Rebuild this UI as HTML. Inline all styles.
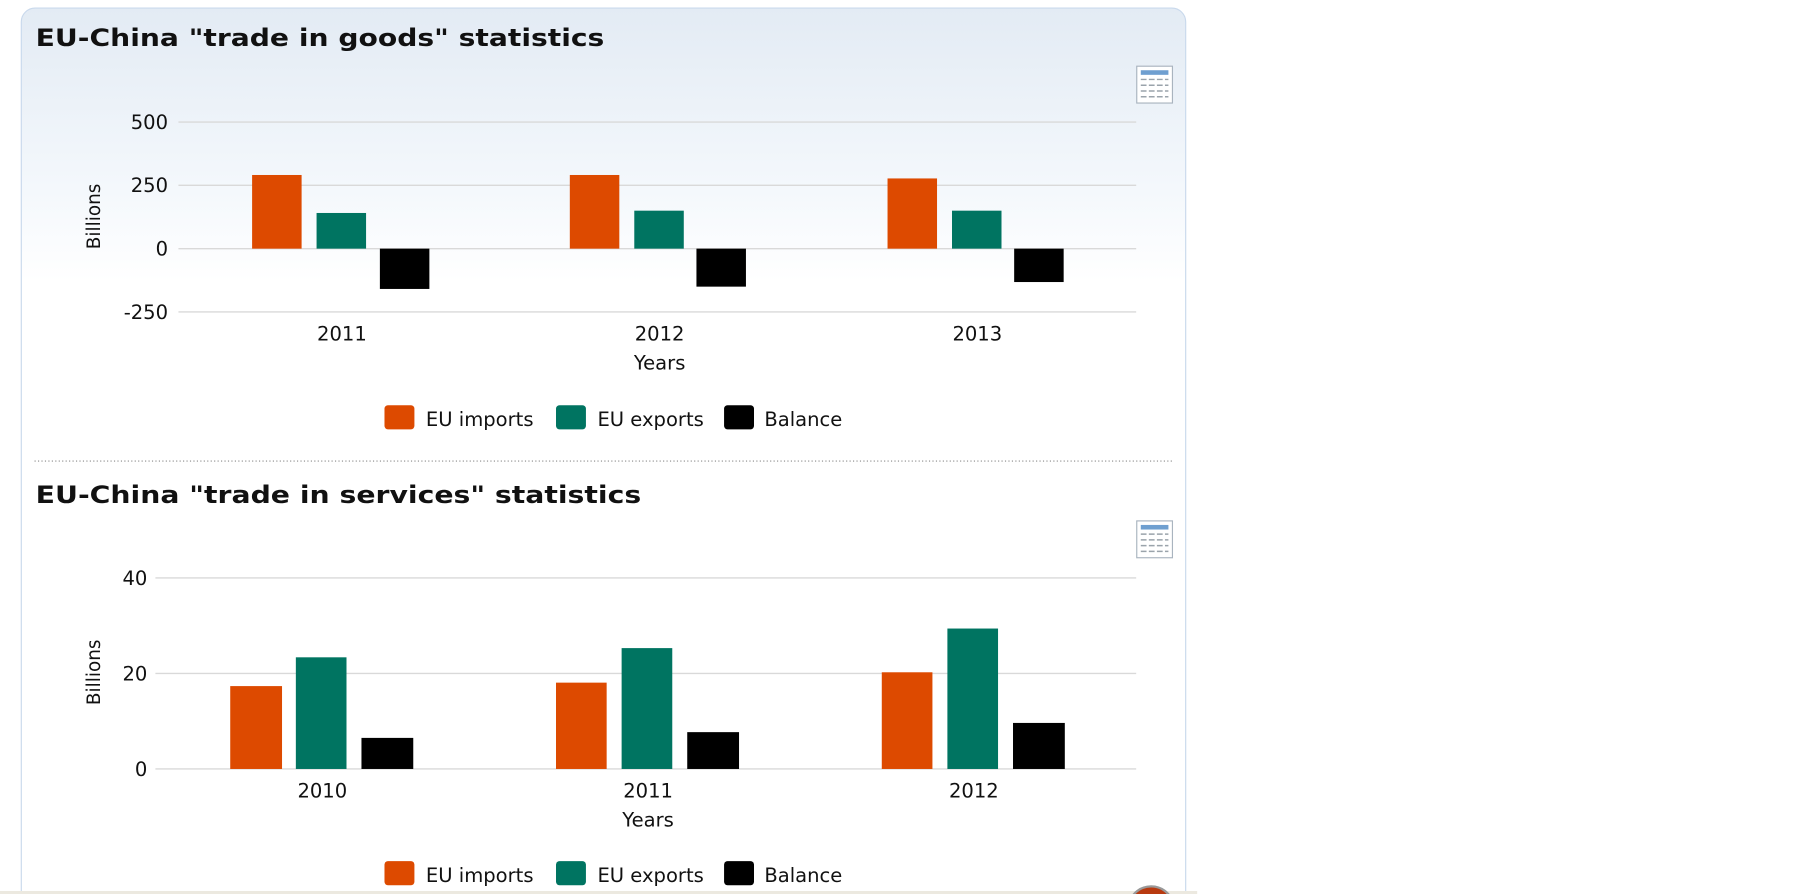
<!DOCTYPE html>
<html><head><meta charset="utf-8"><style>
html,body{margin:0;padding:0;background:#fff;width:1805px;height:894px;overflow:hidden}
svg{display:block}
text{font-family:"DejaVu Sans","Liberation Sans",sans-serif;fill:#111}
</style></head><body>
<svg width="1805" height="894" viewBox="0 0 1568 776.6" xmlns="http://www.w3.org/2000/svg">
<defs>
<linearGradient id="bg" x1="0" y1="0" x2="0" y2="1">
<stop offset="0" stop-color="#e3ebf4"/><stop offset="0.2" stop-color="#f4f8fc"/><stop offset="0.3" stop-color="#fff"/>
</linearGradient>
<g id="icon">
<rect x="0.5" y="0.5" width="31" height="32" fill="#fff" stroke="#a9b4bf"/>
<rect x="4" y="4" width="24" height="4" fill="#6f9fd0"/>
<g stroke="#9aa3ab" stroke-width="1.3" stroke-dasharray="5,2">
<line x1="4" y1="12" x2="28" y2="12"/><line x1="4" y1="17" x2="28" y2="17"/><line x1="4" y1="22" x2="28" y2="22"/><line x1="4" y1="27" x2="28" y2="27"/>
</g>
</g>
</defs>
<path d="M18.5,800 V19 a12,12 0 0 1 12,-12 H1018 a12,12 0 0 1 12,12 V800" fill="url(#bg)" stroke="#c9d9ec"/>
<text x="31" y="40" font-size="21" font-weight="bold" textLength="494" lengthAdjust="spacingAndGlyphs">EU-China "trade in goods" statistics</text>
<use href="#icon" x="987" y="57"/>
<g stroke="#d9d9d9" stroke-width="1.2">
<line x1="155" y1="106" x2="987" y2="106"/><line x1="155" y1="161" x2="987" y2="161"/><line x1="155" y1="216" x2="987" y2="216"/><line x1="155" y1="271" x2="987" y2="271"/>
</g>
<g font-size="17" text-anchor="end">
<text x="146" y="112">500</text><text x="146" y="167">250</text><text x="146" y="222">0</text><text x="146" y="277">-250</text>
</g>
<text transform="translate(87,188) rotate(-90)" font-size="16" text-anchor="middle">Billions</text>
<g fill="#dd4a00"><rect x="219" y="152" width="43" height="64"/><rect x="495" y="152" width="43" height="64"/><rect x="771" y="155" width="43" height="61"/></g>
<g fill="#007461"><rect x="275" y="185" width="43" height="31"/><rect x="551" y="183" width="43" height="33"/><rect x="827" y="183" width="43" height="33"/></g>
<g fill="#000"><rect x="330" y="216" width="43" height="35"/><rect x="605" y="216" width="43" height="33"/><rect x="881" y="216" width="43" height="29"/></g>
<g font-size="17" text-anchor="middle">
<text x="297" y="296">2011</text><text x="573" y="296">2012</text><text x="849" y="296">2013</text><text x="573" y="321">Years</text>
</g>
<g font-size="17">
<rect x="334" y="352" width="26" height="21" rx="3" fill="#dd4a00"/><text x="370" y="370">EU imports</text>
<rect x="483" y="352" width="26" height="21" rx="3" fill="#007461"/><text x="519" y="370">EU exports</text>
<rect x="629" y="352" width="26" height="21" rx="3" fill="#000"/><text x="664" y="370">Balance</text>
</g>
<line x1="30" y1="400.5" x2="1018" y2="400.5" stroke="#888" stroke-dasharray="1,2"/>
<text x="31" y="437" font-size="21" font-weight="bold" textLength="526" lengthAdjust="spacingAndGlyphs">EU-China "trade in services" statistics</text>
<use href="#icon" x="987" y="452"/>
<g stroke="#d9d9d9" stroke-width="1.2">
<line x1="135" y1="502" x2="987" y2="502"/><line x1="135" y1="585" x2="987" y2="585"/><line x1="135" y1="668" x2="987" y2="668"/>
</g>
<g font-size="17" text-anchor="end">
<text x="128" y="508">40</text><text x="128" y="591">20</text><text x="128" y="674">0</text>
</g>
<text transform="translate(87,584) rotate(-90)" font-size="16" text-anchor="middle">Billions</text>
<g fill="#dd4a00"><rect x="200" y="596" width="45" height="72"/><rect x="483" y="593" width="44" height="75"/><rect x="766" y="584" width="44" height="84"/></g>
<g fill="#007461"><rect x="257" y="571" width="44" height="97"/><rect x="540" y="563" width="44" height="105"/><rect x="823" y="546" width="44" height="122"/></g>
<g fill="#000"><rect x="314" y="641" width="45" height="27"/><rect x="597" y="636" width="45" height="32"/><rect x="880" y="628" width="45" height="40"/></g>
<g font-size="17" text-anchor="middle">
<text x="280" y="693">2010</text><text x="563" y="693">2011</text><text x="846" y="693">2012</text><text x="563" y="718">Years</text>
</g>
<g font-size="17">
<rect x="334" y="748" width="26" height="21" rx="3" fill="#dd4a00"/><text x="370" y="766">EU imports</text>
<rect x="483" y="748" width="26" height="21" rx="3" fill="#007461"/><text x="519" y="766">EU exports</text>
<rect x="629" y="748" width="26" height="21" rx="3" fill="#000"/><text x="664" y="766">Balance</text>
</g>
<rect x="0" y="774" width="1040" height="3" fill="#ece9e0"/>
<circle cx="1000" cy="790" r="20" fill="#b83a10" stroke="#999" stroke-width="2"/>
</svg>
</body></html>
